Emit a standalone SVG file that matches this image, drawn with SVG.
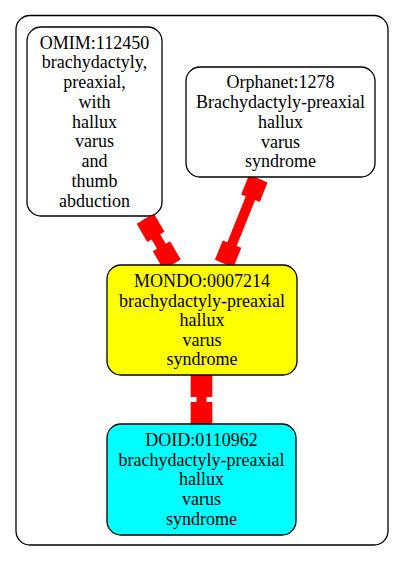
<svg xmlns="http://www.w3.org/2000/svg" width="404" height="561" viewBox="0 0 404 561">
<style>
.node{stroke:#000;stroke-width:1.3}
text{font-family:"Liberation Serif","Times New Roman",serif;font-size:18px;text-anchor:middle;fill:#000}
.edge line{stroke:#f00;stroke-width:10}
.edge rect{fill:#f00}
</style>
<rect width="404" height="561" fill="#fff"/>
<g id="cluster">
<rect x="16" y="15.5" width="372" height="529.5" rx="14" fill="none" stroke="#000" stroke-width="1.3"/>
</g>
<g id="edges" class="edge">
<g transform="translate(145.3,218.7) rotate(59.7)">
<line x1="0" y1="0" x2="53" y2="0"/>
<rect x="0" y="-10" width="21" height="20"/>
<rect x="32" y="-10" width="21" height="20"/>
</g>
<g transform="translate(258.3,178.7) rotate(111.9)">
<line x1="0" y1="0" x2="91.5" y2="0"/>
<rect x="0" y="-10" width="21" height="20"/>
<rect x="70.5" y="-10" width="21" height="20"/>
</g>
<g transform="translate(201.5,375) rotate(90)">
<line x1="0" y1="0" x2="49" y2="0"/>
<rect x="0" y="-10.8" width="22" height="21.6"/>
<rect x="27" y="-10.8" width="22" height="21.6"/>
</g>
</g>
<g id="OMIM_112450">
<rect class="node" x="27" y="27" width="135" height="189" rx="14" fill="#fff"/>
<text x="94.5" y="48.5">OMIM:112450</text>
<text x="94.5" y="68.2">brachydactyly,</text>
<text x="94.5" y="88">preaxial,</text>
<text x="94.5" y="107.7">with</text>
<text x="94.5" y="127.5">hallux</text>
<text x="94.5" y="147.2">varus</text>
<text x="94.5" y="167">and</text>
<text x="94.5" y="186.7">thumb</text>
<text x="94.5" y="206.5">abduction</text>
</g>
<g id="Orphanet_1278">
<rect class="node" x="186" y="67" width="189" height="110" rx="14" fill="#fff"/>
<text x="280.5" y="88">Orphanet:1278</text>
<text x="280.5" y="108">Brachydactyly-preaxial</text>
<text x="280.5" y="128">hallux</text>
<text x="280.5" y="147.5">varus</text>
<text x="280.5" y="167">syndrome</text>
</g>
<g id="MONDO_0007214">
<rect class="node" x="107" y="265" width="190" height="110" rx="14" fill="#ff0"/>
<text x="202" y="286.5">MONDO:0007214</text>
<text x="202" y="306.5">brachydactyly-preaxial</text>
<text x="202" y="326">hallux</text>
<text x="202" y="345.5">varus</text>
<text x="202" y="365">syndrome</text>
</g>
<g id="DOID_0110962">
<rect class="node" x="107" y="424" width="189" height="111" rx="14" fill="#0ff"/>
<text x="201.5" y="445.5">DOID:0110962</text>
<text x="201.5" y="465.5">brachydactyly-preaxial</text>
<text x="201.5" y="485">hallux</text>
<text x="201.5" y="504.5">varus</text>
<text x="201.5" y="524.5">syndrome</text>
</g>
</svg>
